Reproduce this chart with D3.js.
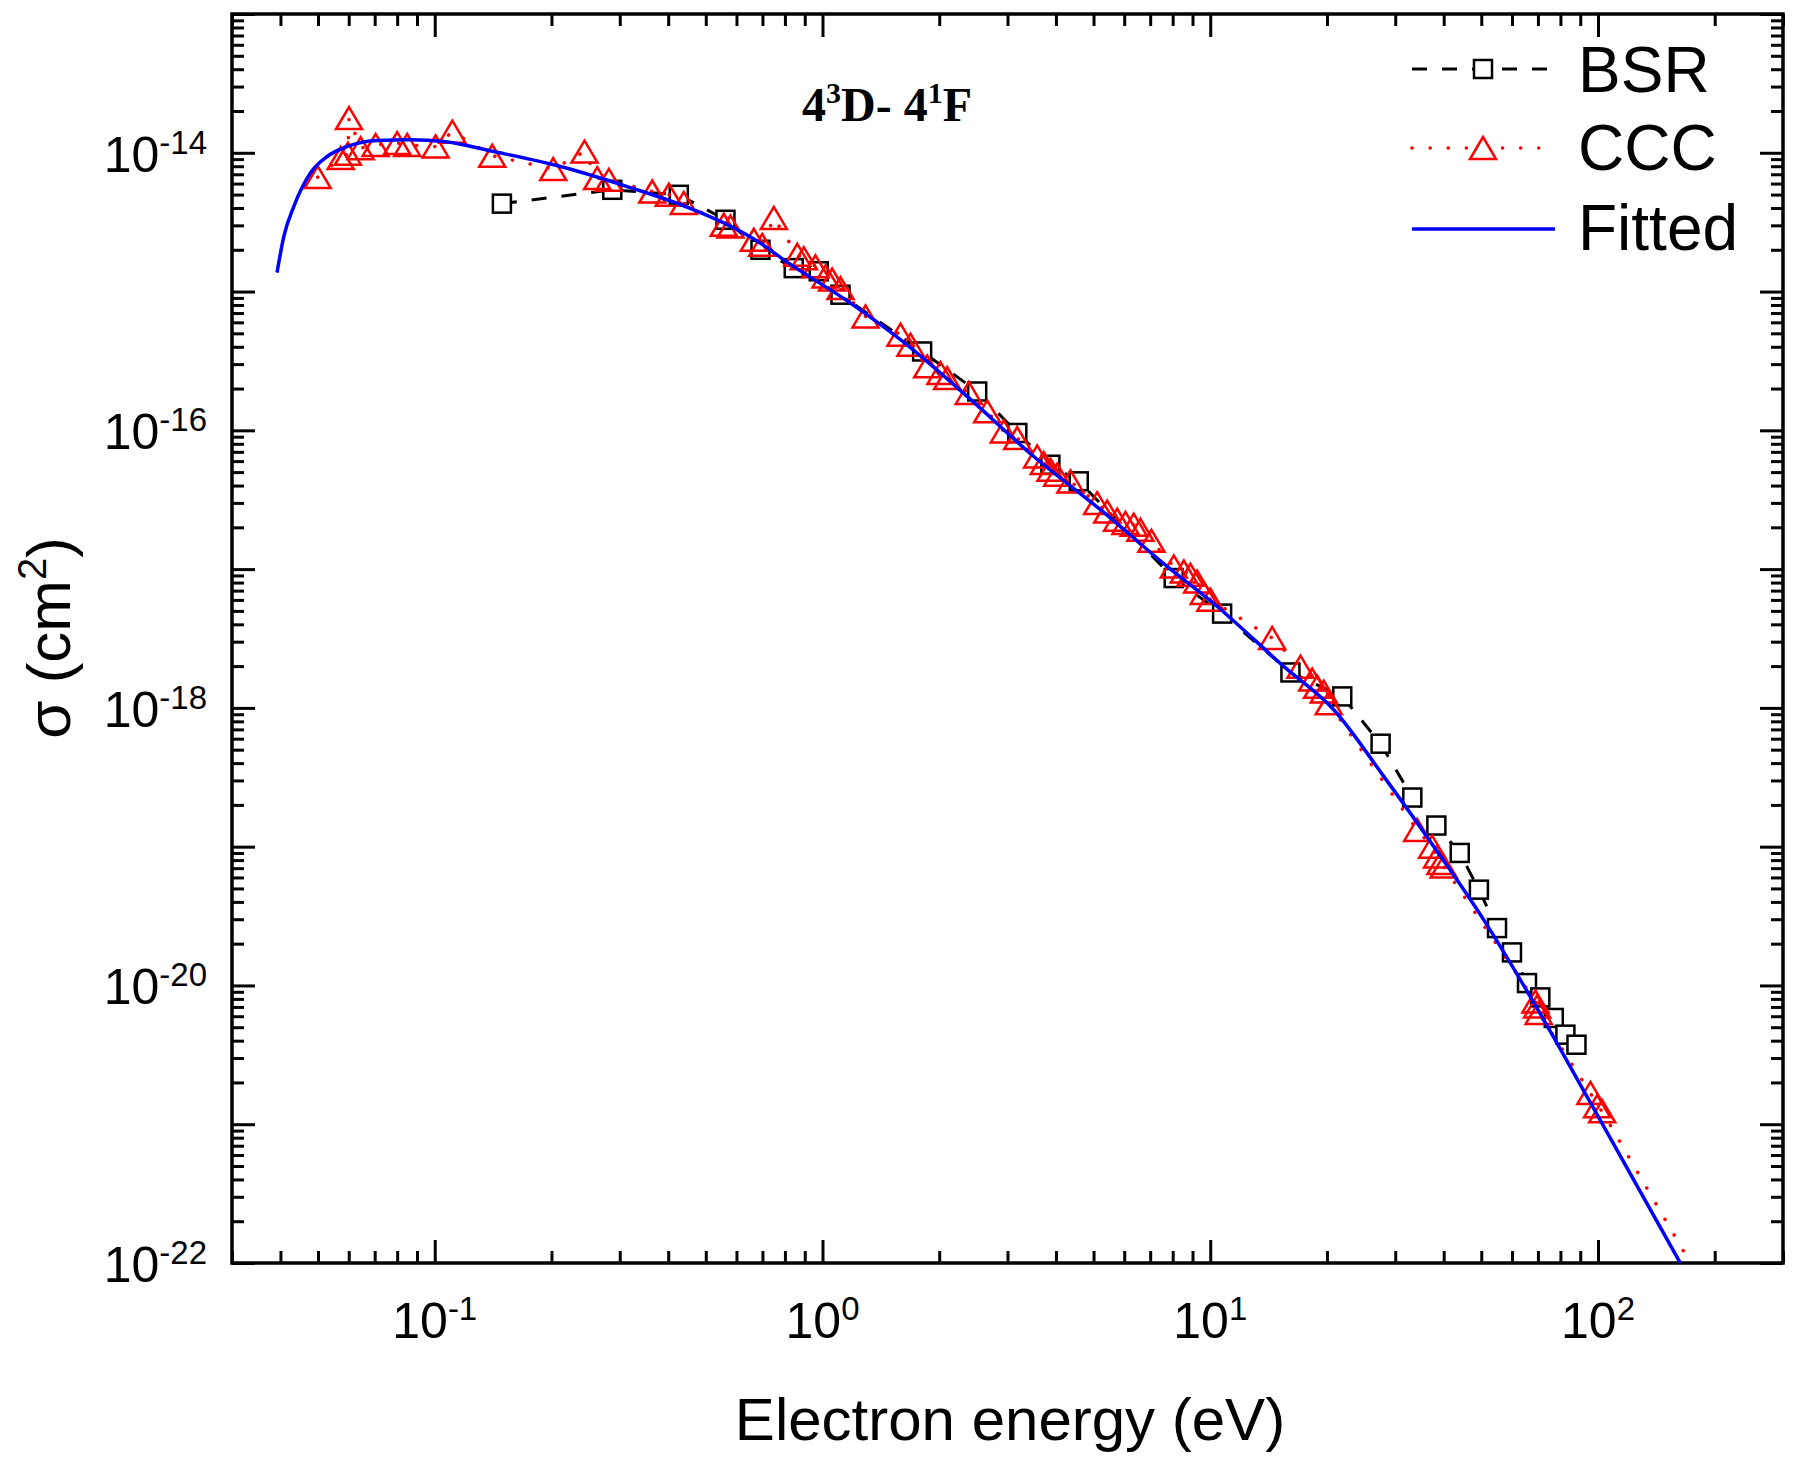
<!DOCTYPE html>
<html>
<head>
<meta charset="utf-8">
<script src="https://cdn.jsdelivr.net/npm/d3@7"></script>
<style>
  body { margin: 0; background: #fff; }
  text { font-family: "Liberation Sans", Arial, sans-serif; fill: #000; }
  text.serif { font-family: "Liberation Serif", "Times New Roman", serif; font-weight: bold; }
</style>
</head>
<body>
<svg></svg>
<script>
const width = 1800;
const height = 1463;

// BSR (eV, cm2)
const bsrEnergy = [0.149, 0.287, 0.426, 0.562, 0.692, 0.843, 0.978, 1.113, 1.807, 2.506, 3.18, 3.87, 4.58,
  8.05, 10.73, 16.1, 21.9, 27.5, 33.2, 38.3, 44.0, 49.3, 54.9, 60.0, 65.6, 71.0, 76.9, 82.4, 88.0];
const bsrSigma = [4.30e-15, 5.41e-15, 4.98e-15, 3.29e-15, 2.0e-15, 1.475e-15, 1.40e-15, 9.49e-16, 3.70e-16,
  1.905e-16, 9.57e-17, 5.65e-17, 4.29e-17, 8.62e-18, 4.78e-18, 1.80e-18, 1.21e-18, 5.52e-19, 2.26e-19,
  1.42e-19, 9.01e-20, 4.90e-20, 2.59e-20, 1.73e-20, 1.04e-20, 8.20e-21, 5.83e-21, 4.42e-21, 3.74e-21];

// CCC (eV, cm2)
const cccEnergy = [0.0499, 0.0572, 0.0597, 0.0601, 0.0644, 0.0704, 0.0800, 0.0849, 0.1005, 0.111, 0.1407,
  0.2021, 0.2433, 0.2624, 0.2812, 0.3638, 0.4017, 0.4388, 0.5565, 0.579, 0.665, 0.699, 0.749, 0.861, 0.895,
  0.959, 1.018, 1.059, 1.113, 1.291, 1.589, 1.686, 1.862, 2.015, 2.097, 2.384, 2.659, 2.935, 3.178, 3.578,
  3.721, 3.872, 4.029, 4.361, 5.109, 5.423, 5.753, 6.043, 6.348, 6.607, 7.053, 8.053, 8.547, 8.892, 9.252,
  9.62, 10.01, 14.44, 17.09, 18.32, 18.87, 19.62, 20.21, 34.17, 37.35, 38.47, 39.23, 40.0, 68.97, 69.66,
  70.32, 95.6, 99.5, 102.5, 200];
const cccSigma = [6.68e-15, 9.16e-15, 9.84e-15, 1.78e-14, 1.08e-14, 1.14e-14, 1.175e-14, 1.14e-14, 1.11e-14,
  1.42e-14, 9.52e-15, 7.63e-15, 1.02e-14, 6.57e-15, 6.38e-15, 5.26e-15, 4.98e-15, 4.35e-15, 3.03e-15,
  2.94e-15, 2.36e-15, 2.17e-15, 3.39e-15, 1.84e-15, 1.74e-15, 1.52e-15, 1.285e-15, 1.22e-15, 1.06e-15,
  6.62e-16, 4.89e-16, 4.14e-16, 2.89e-16, 2.59e-16, 2.38e-16, 1.86e-16, 1.37e-16, 9.82e-17, 8.80e-17,
  6.48e-17, 5.81e-17, 5.20e-17, 4.79e-17, 4.28e-17, 2.99e-17, 2.60e-17, 2.27e-17, 2.15e-17, 2.09e-17,
  1.92e-17, 1.60e-17, 1.045e-17, 9.61e-18, 9.10e-18, 8.14e-18, 6.73e-18, 6.02e-18, 3.19e-18, 1.98e-18,
  1.60e-18, 1.42e-18, 1.31e-18, 1.08e-18, 1.32e-19, 1.00e-19, 8.51e-20, 7.62e-20, 7.21e-20, 7.67e-21,
  7.06e-21, 6.34e-21, 1.68e-21, 1.35e-21, 1.24e-21, 5e-23];

// Fitted curve
const fitEnergy = [0.0392, 0.0408, 0.0433, 0.0478, 0.0528, 0.0595, 0.0711, 0.0866, 0.1056, 0.142, 0.211,
  0.3135, 0.4657, 0.692, 0.795, 1.181, 1.589, 2.361, 3.507, 5.21, 7.74, 10.42, 15.47, 20.82, 28.02, 37.7,
  50.7, 68.3, 95.6, 163];
const fitSigma = [1.37e-15, 2.49e-15, 4.10e-15, 7.14e-15, 9.40e-15, 1.11e-14, 1.227e-14, 1.24e-14, 1.205e-14,
  1.02e-14, 7.96e-15, 5.71e-15, 3.88e-15, 2.23e-15, 1.69e-15, 8.26e-16, 4.50e-16, 1.756e-16, 6.48e-17,
  2.68e-17, 1.045e-17, 5.38e-18, 1.99e-18, 9.70e-19, 3.21e-19, 1.004e-19, 2.98e-20, 7.52e-21, 1.43e-21, 1.0e-22];

// axes
const xTickExps = [-1, 0, 1, 2];
const yTickExps = [-22, -20, -18, -16, -14];
const xDomain = [0.03, 300];
const yDomain = [1e-22, 1e-13];

const svg = d3.select("svg")
  .attr("width", width)
  .attr("height", height);

svg.append("rect").attr("width", width).attr("height", height).attr("fill", "#fff");

const plot = { left: 232, right: 1783, top: 14, bottom: 1263 };

const x = d3.scaleLog().domain(xDomain).range([plot.left, plot.right]);
const y = d3.scaleLog().domain(yDomain).range([plot.bottom, plot.top]);

// tick values
const xMajor = [];
const xMinor = [];
for (let e = -2; e <= 2; e++) {
  for (let m = 1; m <= 9; m++) {
    const v = m * Math.pow(10, e);
    if (v < xDomain[0] * 0.999 || v > xDomain[1] * 1.001) continue;
    (m === 1 ? xMajor : xMinor).push(v);
  }
}
const yMajor = [];
const yMinor = [];
for (let e = -22; e <= -13; e++) {
  for (let m = 1; m <= 9; m++) {
    const v = m * Math.pow(10, e);
    if (v > yDomain[1] * 1.001) continue;
    (m === 1 ? yMajor : yMinor).push(v);
  }
}

function tickGroup(axis, transform) {
  svg.append("g")
    .attr("transform", transform)
    .call(axis.tickFormat("").tickSizeOuter(0))
    .call(g => g.select(".domain").remove())
    .selectAll("line")
    .attr("stroke", "#000")
    .attr("stroke-width", 3);
}

const majorLen = -23;
const minorLen = -12;
tickGroup(d3.axisBottom(x).tickValues(xMajor).tickSize(majorLen), `translate(0,${plot.bottom})`);
tickGroup(d3.axisBottom(x).tickValues(xMinor).tickSize(minorLen), `translate(0,${plot.bottom})`);
tickGroup(d3.axisTop(x).tickValues(xMajor).tickSize(majorLen), `translate(0,${plot.top})`);
tickGroup(d3.axisTop(x).tickValues(xMinor).tickSize(minorLen), `translate(0,${plot.top})`);
tickGroup(d3.axisLeft(y).tickValues(yMajor).tickSize(majorLen), `translate(${plot.left},0)`);
tickGroup(d3.axisLeft(y).tickValues(yMinor).tickSize(minorLen), `translate(${plot.left},0)`);
tickGroup(d3.axisRight(y).tickValues(yMajor).tickSize(majorLen), `translate(${plot.right},0)`);
tickGroup(d3.axisRight(y).tickValues(yMinor).tickSize(minorLen), `translate(${plot.right},0)`);

// frame
svg.append("rect")
  .attr("x", plot.left).attr("y", plot.top)
  .attr("width", plot.right - plot.left).attr("height", plot.bottom - plot.top)
  .attr("fill", "none").attr("stroke", "#000").attr("stroke-width", 3.5);

// tick labels 10^n
function powLabel(t, exp) {
  t.append("tspan").text("10");
  t.append("tspan").attr("dy", -18).attr("font-size", 33).text(exp);
}

xTickExps.forEach(e => {
  svg.append("text")
    .attr("x", x(Math.pow(10, e)))
    .attr("y", 1338)
    .attr("text-anchor", "middle")
    .attr("font-size", 50)
    .call(powLabel, `${e}`);
});

yTickExps.forEach(e => {
  svg.append("text")
    .attr("x", 207)
    .attr("y", y(Math.pow(10, e)) + 19)
    .attr("text-anchor", "end")
    .attr("font-size", 50)
    .call(powLabel, `${e}`);
});

// axis titles
svg.append("text")
  .attr("x", 1010).attr("y", 1440)
  .attr("text-anchor", "middle")
  .attr("font-size", 60)
  .text("Electron energy (eV)");

const yTitle = svg.append("text")
  .attr("transform", "translate(70,638) rotate(-90)")
  .attr("text-anchor", "middle")
  .attr("font-size", 62);
yTitle.append("tspan").text("σ (cm");
yTitle.append("tspan").attr("dy", -24).attr("font-size", 40).text("2");
yTitle.append("tspan").attr("dy", 24).text(")");

// annotation
const note = svg.append("text")
  .attr("class", "serif")
  .attr("x", 802).attr("y", 121)
  .attr("font-size", 48);
note.append("tspan").text("4");
note.append("tspan").attr("dy", -18).attr("font-size", 30).text("3");
note.append("tspan").attr("dy", 18).text("D- 4");
note.append("tspan").attr("dy", -18).attr("font-size", 30).text("1");
note.append("tspan").attr("dy", 18).text("F");

// data
svg.append("clipPath").attr("id", "clip")
  .append("rect")
  .attr("x", plot.left).attr("y", plot.top)
  .attr("width", plot.right - plot.left).attr("height", plot.bottom - plot.top);

const g = svg.append("g").attr("clip-path", "url(#clip)");

const bsr = bsrEnergy.map((e, i) => ({ e, s: bsrSigma[i] }));
const ccc = cccEnergy.map((e, i) => ({ e, s: cccSigma[i] }));
const fit = fitEnergy.map((e, i) => ({ e, s: fitSigma[i] }));

const line = d3.line().x(d => x(d.e)).y(d => y(d.s));

const sq = 18;
const triPath = "M0,-11L13,11L-13,11Z";

// BSR
g.append("path").datum(bsr)
  .attr("d", line)
  .attr("fill", "none").attr("stroke", "#000")
  .attr("stroke-width", 3).attr("stroke-dasharray", "15,15");
g.selectAll(".bsr").data(bsr).enter().append("rect")
  .attr("x", d => x(d.e) - sq / 2).attr("y", d => y(d.s) - sq / 2)
  .attr("width", sq).attr("height", sq)
  .attr("fill", "#fff").attr("stroke", "#000").attr("stroke-width", 2.5);

// CCC
g.append("path").datum(ccc)
  .attr("d", line)
  .attr("fill", "none").attr("stroke", "#ff0000")
  .attr("stroke-width", 3.5).attr("stroke-linecap", "round")
  .attr("stroke-dasharray", "0.1,18");
g.selectAll(".ccc").data(ccc).enter().append("path")
  .attr("d", triPath)
  .attr("transform", d => `translate(${x(d.e)},${y(d.s)})`)
  .attr("fill", "none").attr("stroke", "#ff0000").attr("stroke-width", 2.5);

// Fitted
g.append("path").datum(fit)
  .attr("d", line.curve(d3.curveMonotoneX))
  .attr("fill", "none").attr("stroke", "#0000ff").attr("stroke-width", 3.5);

// legend
const legend = svg.append("g");
const legX0 = 1412, legX1 = 1555, legSym = 1483, legText = 1578;

legend.append("line")
  .attr("x1", legX0).attr("x2", legX1).attr("y1", 69).attr("y2", 69)
  .attr("stroke", "#000").attr("stroke-width", 3).attr("stroke-dasharray", "15,15");
legend.append("rect")
  .attr("x", legSym - sq / 2).attr("y", 69 - sq / 2).attr("width", sq).attr("height", sq)
  .attr("fill", "#fff").attr("stroke", "#000").attr("stroke-width", 2.5);
legend.append("text").attr("x", legText).attr("y", 92).attr("font-size", 64).text("BSR");

legend.append("line")
  .attr("x1", legX0).attr("x2", legX1).attr("y1", 148).attr("y2", 148)
  .attr("stroke", "#ff0000").attr("stroke-width", 3.5).attr("stroke-linecap", "round")
  .attr("stroke-dasharray", "0.1,18");
legend.append("path")
  .attr("d", triPath).attr("transform", `translate(${legSym},148)`)
  .attr("fill", "#fff").attr("stroke", "#ff0000").attr("stroke-width", 2.5);
legend.append("text").attr("x", legText).attr("y", 170).attr("font-size", 64).text("CCC");

legend.append("line")
  .attr("x1", legX0).attr("x2", legX1).attr("y1", 229).attr("y2", 229)
  .attr("stroke", "#0000ff").attr("stroke-width", 3.5);
legend.append("text").attr("x", legText).attr("y", 250).attr("font-size", 64).text("Fitted");
</script>
</body>
</html>
